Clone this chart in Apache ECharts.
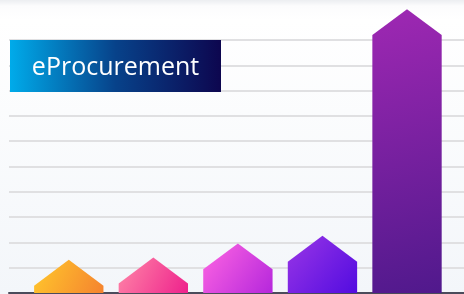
<!DOCTYPE html>
<html>
<head>
<meta charset="utf-8">
<script src="https://cdn.jsdelivr.net/npm/echarts@6/dist/echarts.min.js"></script>
<style>
  html, body {
    margin: 0;
    padding: 0;
  }
  body {
    width: 464px;
    height: 294px;
    background: linear-gradient(to bottom, #eceef1 0px, #fcfcfd 6px, #ffffff 20px, #f3f6fa 294px);
    overflow: hidden;
  }
  #chart {
    width: 464px;
    height: 294px;
  }
</style>
</head>
<body>
<div id="chart"></div>
<script>
const title = "eProcurement";
const categories = ["1", "2", "3", "4", "5"];
const values = [2.9, 3.8, 9.4, 12.4, 102];
const yMax = 100;
const yInterval = 10;

// top-left / bottom-right colours for each bar
const barColors = [
  ["#ffc92c", "#f5832f"],
  ["#ff88a8", "#ee218c"],
  ["#ff66e2", "#b527dc"],
  ["#9a36e6", "#520ce0"],
  ["#9f28b3", "#50198c"],
];

const chart = echarts.init(document.getElementById("chart"));

function renderArrowBar(params, api) {
  const idx = api.value(0);
  const top = api.coord([idx, api.value(1)]);
  const base = api.coord([idx, 0]);
  const w = api.size([1, 0])[0] * 0.82;
  const head = w * 0.372;
  const cx = top[0];
  const c = barColors[params.dataIndex];
  return {
    type: "polygon",
    shape: {
      points: [
        [cx - w / 2, base[1]],
        [cx - w / 2, top[1]],
        [cx, top[1] - head],
        [cx + w / 2, top[1]],
        [cx + w / 2, base[1]],
      ],
    },
    style: {
      fill: new echarts.graphic.LinearGradient(0, 0, 1, 1, [
        { offset: 0, color: c[0] },
        { offset: 1, color: c[1] },
      ]),
    },
  };
}

const option = {
  animation: false,
  grid: [
    { left: 9, right: 0, top: 40, bottom: 1 },
    { left: 26.5, right: 14.7, top: 40, bottom: 1 },
  ],
  xAxis: [
    {
      gridIndex: 0,
      type: "value",
      min: 0,
      max: 1,
      axisLine: { show: true, lineStyle: { color: "#4b4b5b", width: 2 } },
      axisTick: { show: false },
      axisLabel: { show: false },
      splitLine: { show: false },
    },
    {
      gridIndex: 1,
      type: "category",
      data: categories,
      axisLine: { show: false },
      axisTick: { show: false },
      axisLabel: { show: false },
    },
  ],
  yAxis: [
    {
      gridIndex: 0,
      type: "value",
      min: 0,
      max: yMax,
      interval: yInterval,
      axisLine: { show: false },
      axisTick: { show: false },
      axisLabel: { show: false },
      splitLine: { lineStyle: { color: "#e0e0e2", width: 2 } },
    },
    {
      gridIndex: 1,
      type: "value",
      min: 0,
      max: yMax,
      interval: yInterval,
      show: false,
      splitLine: { show: false },
    },
  ],
  graphic: [
    {
      type: "rect",
      left: 10,
      top: 40,
      z: 100,
      shape: { width: 211, height: 52 },
      style: {
        fill: new echarts.graphic.LinearGradient(0, 0, 1, 0, [
          { offset: 0, color: "#00abea" },
          { offset: 0.5, color: "#07428a" },
          { offset: 1, color: "#0d064f" },
        ]),
      },
    },
    {
      type: "text",
      x: 115.5,
      y: 68,
      z: 101,
      style: {
        text: title,
        fill: "#ffffff",
        font: "25px 'Open Sans'",
        align: "center",
        verticalAlign: "middle",
      },
    },
  ],
  series: [
    {
      type: "custom",
      xAxisIndex: 1,
      yAxisIndex: 1,
      clip: false,
      renderItem: renderArrowBar,
      data: values.map((v, i) => [i, v]),
    },
  ],
};

chart.setOption(option);
</script>
</body>
</html>
